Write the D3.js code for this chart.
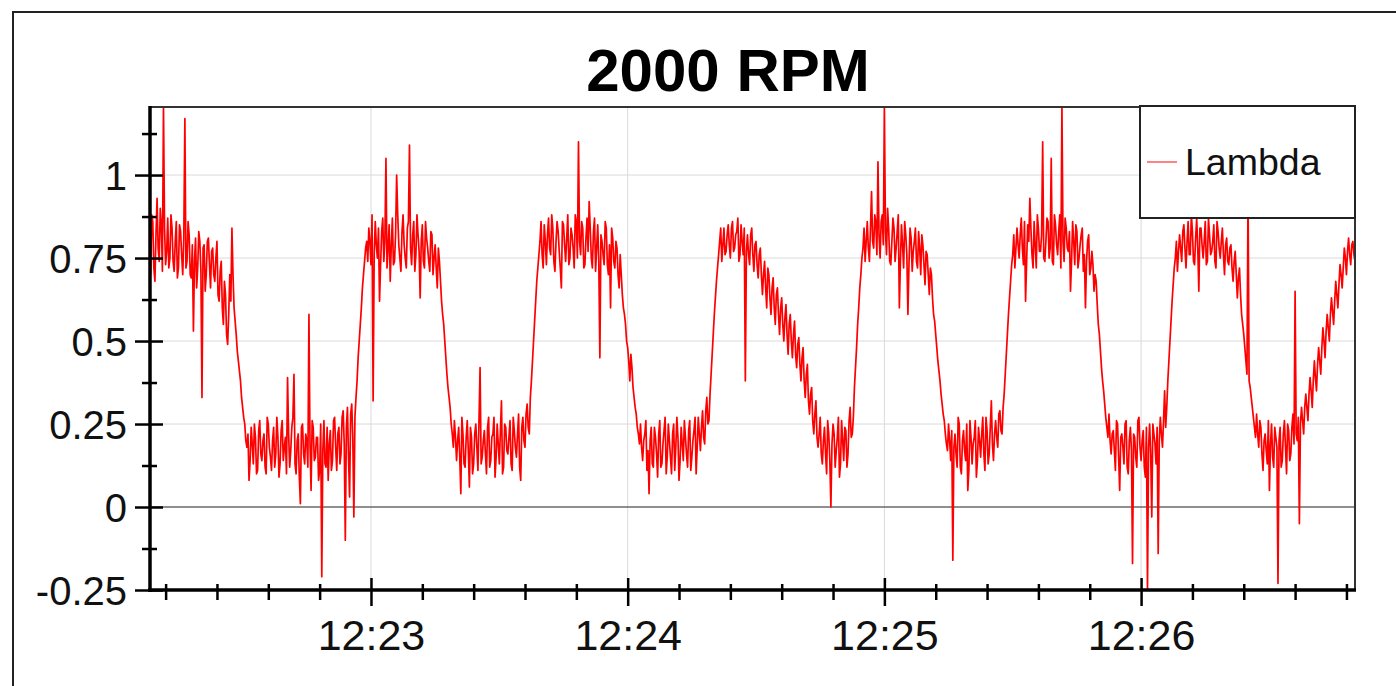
<!DOCTYPE html>
<html>
<head>
<meta charset="utf-8">
<script src="https://cdn.jsdelivr.net/npm/d3@7"></script>
<style>
  body { margin: 0; background: #fff; }
  svg { display: block; font-family: "Liberation Sans", Arial, sans-serif; }
</style>
</head>
<body>
<div id="chart"></div>
<script>
var w = 1396;
var h = 686;
var margin = { top: 107, right: 41, bottom: 96, left: 150 };

var title = "2000 RPM";
var seriesName = "Lambda";

// sample timing of the logger: readings on the half second, plus the ones in between
var startTime = new Date(2020, 0, 1, 12, 22, 8, 0);
var stepMs = 500;
var midOffsetMs = 250;
var viewStart = new Date(2020, 0, 1, 12, 22, 8, 350);
var viewEnd = new Date(2020, 0, 1, 12, 26, 50, 0);

var yTicks = [-0.25, 0, 0.25, 0.5, 0.75, 1];
var yMinorTicks = [-0.125, 0.125, 0.375, 0.625, 0.875, 1.125];
var xTickLabels = ["12:23", "12:24", "12:25", "12:26"];

// lambda readings on the half second
var lambdaValues = [
  0.80, 0.70, 0.86, 0.68, 0.93, 0.74, 0.85, 1.21, 0.73, 0.87,
  0.75, 0.84, 0.71, 0.86, 0.72, 0.83, 0.70, 1.17, 0.74, 0.82,
  0.69, 0.53, 0.81, 0.72, 0.80, 0.33, 0.79, 0.70, 0.81, 0.66,
  0.78, 0.68, 0.80, 0.62, 0.74, 0.55, 0.64, 0.49, 0.70, 0.84,
  0.60, 0.52, 0.44, 0.38, 0.30, 0.25, 0.18, 0.08, 0.24, 0.13,
  0.21, 0.11, 0.26, 0.14, 0.22, 0.10, 0.25, 0.15, 0.20, 0.12,
  0.27, 0.09, 0.23, 0.14, 0.21, 0.39, 0.12, 0.24, 0.40, 0.10,
  0.22, 0.01, 0.25, 0.13, 0.20, 0.58, 0.05, 0.24, 0.15, 0.21,
  0.11, -0.21, 0.26, 0.12, 0.08, 0.23, 0.14, 0.27, 0.11, 0.24,
  0.16, 0.29, -0.10, 0.30, 0.03, 0.31, -0.03, 0.33, 0.45, 0.55,
  0.66, 0.74, 0.80, 0.84, 0.73, 0.32, 0.86, 0.75, 0.62, 0.83,
  0.74, 1.05, 0.78, 0.68, 0.87, 0.74, 1.00, 0.79, 0.71, 0.88,
  0.75, 0.84, 1.09, 0.73, 0.86, 0.76, 0.82, 0.63, 0.85, 0.72,
  0.81, 0.74, 0.83, 0.70, 0.79, 0.66, 0.74, 0.62, 0.55, 0.45,
  0.36, 0.30, 0.22, 0.26, 0.14, 0.24, 0.04, 0.22, 0.12, 0.26,
  0.06, 0.21, 0.13, 0.25, 0.11, 0.42, 0.15, 0.23, 0.10, 0.27,
  0.14, 0.22, 0.09, 0.25, 0.13, 0.32, 0.12, 0.24, 0.16, 0.26,
  0.11, 0.23, 0.15, 0.28, 0.08, 0.27, 0.18, 0.31, 0.22, 0.38,
  0.50, 0.62, 0.72, 0.80, 0.76, 0.85, 0.73, 0.87, 0.76, 0.84,
  0.71, 0.86, 0.77, 0.66, 0.85, 0.74, 0.88, 0.75, 0.82, 0.72,
  0.86, 1.10, 0.76, 0.84, 0.73, 0.87, 0.92, 0.75, 0.83, 0.71,
  0.85, 0.45, 0.80, 0.73, 0.84, 0.70, 0.60, 0.81, 0.72, 0.78,
  0.66, 0.70, 0.60, 0.55, 0.48, 0.38, 0.42, 0.33, 0.28, 0.22,
  0.25, 0.14, 0.22, 0.11, 0.04, 0.24, 0.12, 0.21, 0.09, 0.26,
  0.13, 0.23, 0.10, 0.25, 0.15, 0.22, 0.11, 0.27, 0.08, 0.24,
  0.14, 0.21, 0.12, 0.26, 0.15, 0.23, 0.10, 0.27, 0.17, 0.29,
  0.19, 0.33, 0.26, 0.40, 0.52, 0.63, 0.72, 0.80, 0.74, 0.84,
  0.77, 0.85, 0.75, 0.86, 0.78, 0.83, 0.74, 0.85, 0.76, 0.38,
  0.82, 0.73, 0.84, 0.71, 0.80, 0.69, 0.78, 0.64, 0.74, 0.60,
  0.70, 0.58, 0.69, 0.55, 0.66, 0.52, 0.63, 0.50, 0.61, 0.46,
  0.58, 0.45, 0.56, 0.42, 0.51, 0.38, 0.48, 0.33, 0.43, 0.28,
  0.36, 0.22, 0.32, 0.18, 0.27, 0.13, 0.24, 0.10, 0.22, 0.00,
  0.25, 0.12, 0.21, 0.09, 0.26, 0.14, 0.23, 0.16, 0.30, 0.22,
  0.36, 0.48, 0.60, 0.70, 0.78, 0.74, 0.86, 0.74, 0.95, 0.78,
  0.86, 1.04, 0.75, 0.88, 1.21, 0.76, 0.84, 0.73, 0.87, 0.74,
  0.83, 0.60, 0.85, 0.72, 0.82, 0.58, 0.84, 0.71, 0.80, 0.74,
  0.83, 0.70, 0.79, 0.67, 0.76, 0.64, 0.70, 0.58, 0.52, 0.44,
  0.38, 0.31, 0.26, 0.19, 0.25, 0.14, -0.16, 0.22, 0.12, 0.25,
  0.10, 0.23, 0.14, 0.05, 0.26, 0.13, 0.21, 0.09, 0.24, 0.15,
  0.27, 0.11, 0.23, 0.16, 0.32, 0.14, 0.26, 0.18, 0.29, 0.22,
  0.34, 0.46, 0.58, 0.68, 0.76, 0.72, 0.84, 0.75, 0.87, 0.73,
  0.62, 0.85, 0.93, 0.76, 0.86, 0.72, 0.84, 0.77, 1.10, 0.74,
  0.87, 0.75, 1.05, 0.73, 0.85, 0.76, 0.88, 1.21, 0.74, 0.84,
  0.77, 0.65, 0.86, 0.73, 0.83, 0.75, 0.82, 0.71, 0.60, 0.80,
  0.70, 0.77, 0.65, 0.68, 0.55, 0.47, 0.38, 0.31, 0.24, 0.28,
  0.16, 0.23, 0.11, 0.25, 0.05, 0.22, 0.13, 0.26, 0.10, 0.24,
  -0.17, 0.21, 0.12, 0.27, 0.14, 0.23, 0.09, -0.25, 0.25, -0.03,
  0.22, 0.13, -0.14, 0.27, 0.18, 0.35, 0.30, 0.44, 0.56, 0.67,
  0.75, 0.71, 0.82, 0.74, 0.85, 0.72, 0.86, 0.76, 0.83, 0.73,
  0.87, 0.65, 0.84, 0.75, 0.86, 0.74, 0.82, 0.77, 0.85, 0.72,
  0.83, 0.75, 0.84, 0.70, 0.81, 0.73, 0.79, 0.68, 0.77, 0.63,
  0.72, 0.58, 0.52, 0.44, 0.95, 0.36, 0.30, 0.24, 0.28, 0.18,
  0.24, 0.11, 0.22, 0.13, 0.05, 0.25, 0.12, 0.21, -0.23, 0.24,
  0.14, 0.26, 0.10, 0.23, 0.16, 0.28, 0.65, 0.20, -0.05, 0.30,
  0.22, 0.34, 0.26, 0.39, 0.30, 0.44, 0.35, 0.48, 0.40, 0.54,
  0.45, 0.58, 0.50, 0.63, 0.55, 0.68, 0.60, 0.73, 0.66, 0.78,
  0.70, 0.81, 0.73, 0.80, 0.74, 0.78
];

// lambda readings a quarter second later (between the ones above)
var lambdaMid = [
  0.76, 0.88, 0.72, 0.82, 0.78, 0.90, 0.71, 0.84, 0.77, 0.72,
  0.88, 0.74, 0.80, 0.69, 0.85, 0.76, 0.81, 0.72, 0.86, 0.70,
  0.79, 0.74, 0.66, 0.83, 0.71, 0.78, 0.65, 0.80, 0.73, 0.77,
  0.70, 0.75, 0.64, 0.71, 0.60, 0.68, 0.52, 0.58, 0.62, 0.70,
  0.56, 0.47, 0.41, 0.33, 0.27, 0.20, 0.22, 0.14, 0.19, 0.25,
  0.10, 0.23, 0.16, 0.20, 0.12, 0.27, 0.18, 0.11, 0.24, 0.16,
  0.21, 0.13, 0.26, 0.18, 0.10, 0.22, 0.17, 0.27, 0.13, 0.20,
  0.09, 0.24, 0.16, 0.22, 0.12, 0.19, 0.26, 0.14, 0.21, 0.08,
  0.25, 0.17, 0.13, 0.24, 0.19, 0.11, 0.26, 0.18, 0.22, 0.13,
  0.27, 0.19, 0.24, 0.15, 0.28, 0.21, 0.27, 0.38, 0.50, 0.60,
  0.70, 0.78, 0.74, 0.80, 0.88, 0.76, 0.79, 0.84, 0.73, 0.87,
  0.80, 0.72, 0.85, 0.79, 0.73, 0.82, 0.88, 0.75, 0.83, 0.79,
  0.72, 0.86, 0.78, 0.82, 0.71, 0.88, 0.77, 0.80, 0.74, 0.86,
  0.78, 0.71, 0.82, 0.75, 0.72, 0.78, 0.68, 0.58, 0.50, 0.40,
  0.33, 0.25, 0.18, 0.21, 0.20, 0.15, 0.27, 0.13, 0.21, 0.17,
  0.24, 0.10, 0.22, 0.18, 0.26, 0.13, 0.20, 0.16, 0.24, 0.12,
  0.21, 0.27, 0.15, 0.19, 0.23, 0.10, 0.25, 0.17, 0.21, 0.13,
  0.27, 0.18, 0.22, 0.12, 0.24, 0.20, 0.28, 0.24, 0.33, 0.44,
  0.56, 0.68, 0.76, 0.86, 0.72, 0.80, 0.82, 0.78, 0.88, 0.74,
  0.80, 0.83, 0.72, 0.86, 0.79, 0.81, 0.73, 0.84, 0.78, 0.88,
  0.75, 0.80, 0.86, 0.72, 0.81, 0.77, 0.84, 0.72, 0.87, 0.78,
  0.74, 0.82, 0.76, 0.86, 0.73, 0.79, 0.84, 0.74, 0.80, 0.70,
  0.76, 0.64, 0.58, 0.50, 0.44, 0.46, 0.36, 0.30, 0.24, 0.19,
  0.18, 0.20, 0.26, 0.17, 0.20, 0.13, 0.24, 0.16, 0.22, 0.12,
  0.19, 0.27, 0.15, 0.20, 0.10, 0.25, 0.18, 0.21, 0.14, 0.19,
  0.26, 0.16, 0.23, 0.11, 0.20, 0.27, 0.18, 0.22, 0.24, 0.21,
  0.29, 0.25, 0.34, 0.46, 0.58, 0.68, 0.76, 0.84, 0.79, 0.76,
  0.82, 0.79, 0.84, 0.77, 0.82, 0.87, 0.76, 0.80, 0.84, 0.77,
  0.76, 0.82, 0.76, 0.79, 0.73, 0.76, 0.70, 0.70, 0.66, 0.72,
  0.63, 0.66, 0.60, 0.64, 0.58, 0.60, 0.55, 0.57, 0.52, 0.55,
  0.50, 0.52, 0.46, 0.49, 0.43, 0.45, 0.38, 0.40, 0.32, 0.34,
  0.26, 0.28, 0.21, 0.22, 0.16, 0.20, 0.16, 0.26, 0.14, 0.19,
  0.22, 0.17, 0.27, 0.13, 0.20, 0.24, 0.12, 0.26, 0.21, 0.27,
  0.42, 0.55, 0.66, 0.75, 0.84, 0.80, 0.78, 0.84, 0.80, 0.88,
  0.76, 0.82, 0.86, 0.79, 0.83, 0.90, 0.74, 0.80, 0.84, 0.78,
  0.88, 0.74, 0.79, 0.86, 0.76, 0.73, 0.81, 0.77, 0.84, 0.72,
  0.78, 0.82, 0.73, 0.77, 0.70, 0.72, 0.63, 0.56, 0.48, 0.41,
  0.34, 0.28, 0.22, 0.17, 0.20, 0.23, 0.18, 0.16, 0.27, 0.12,
  0.20, 0.17, 0.25, 0.11, 0.21, 0.19, 0.26, 0.14, 0.20, 0.22,
  0.16, 0.27, 0.13, 0.24, 0.19, 0.22, 0.21, 0.28, 0.23, 0.30,
  0.40, 0.52, 0.63, 0.73, 0.82, 0.78, 0.79, 0.82, 0.78, 0.86,
  0.74, 0.80, 0.84, 0.72, 0.79, 0.88, 0.77, 0.82, 0.75, 0.80,
  0.86, 0.78, 0.74, 0.88, 0.79, 0.83, 0.72, 0.80, 0.87, 0.78,
  0.83, 0.74, 0.80, 0.85, 0.72, 0.79, 0.84, 0.76, 0.74, 0.82,
  0.72, 0.73, 0.70, 0.61, 0.52, 0.42, 0.35, 0.27, 0.21, 0.20,
  0.22, 0.17, 0.26, 0.15, 0.21, 0.18, 0.25, 0.12, 0.20, 0.17,
  0.22, 0.15, 0.26, 0.18, 0.20, 0.12, 0.24, 0.18, 0.16, 0.25,
  0.19, 0.24, 0.20, 0.22, 0.26, 0.24, 0.38, 0.50, 0.62, 0.72,
  0.80, 0.77, 0.78, 0.83, 0.78, 0.80, 0.76, 0.88, 0.74, 0.81,
  0.78, 0.84, 0.79, 0.80, 0.73, 0.87, 0.76, 0.80, 0.74, 0.86,
  0.78, 0.80, 0.76, 0.79, 0.74, 0.78, 0.72, 0.74, 0.70, 0.69,
  0.64, 0.55, 0.48, 0.40, 0.38, 0.33, 0.27, 0.21, 0.22, 0.26,
  0.16, 0.20, 0.17, 0.26, 0.19, 0.15, 0.24, 0.18, 0.20, 0.12,
  0.22, 0.18, 0.25, 0.14, 0.24, 0.19, 0.22, 0.27, 0.25, 0.26,
  0.30, 0.30, 0.34, 0.35, 0.38, 0.39, 0.43, 0.44, 0.48, 0.50,
  0.53, 0.54, 0.58, 0.59, 0.62, 0.64, 0.67, 0.70, 0.72, 0.75,
  0.77, 0.76, 0.79, 0.76, 0.80, 0.77
];

// merge both sets of readings into one time-ordered series
var data = [];
lambdaValues.forEach(function(v, i) {
    var t = startTime.getTime() + i * stepMs;
    data.push({ t: new Date(t), v: v });
    if (i < lambdaMid.length) {
        data.push({ t: new Date(t + midOffsetMs), v: lambdaMid[i] });
    }
});

var xscale = d3.scaleTime().domain([viewStart, viewEnd]).range([margin.left, w - margin.right]);
var yscale = d3.scaleLinear().domain([-0.25, 1.205]).range([h - margin.bottom, margin.top]);

var x0 = margin.left, x1 = w - margin.right;
var y0 = h - margin.bottom, y1 = margin.top;

var svg = d3.select("#chart")
            .append("svg")
            .attr("width", w)
            .attr("height", h);

// outer frame (runs off the right and bottom of the picture)
svg.append("rect")
   .attr("x", 13).attr("y", 12)
   .attr("width", w).attr("height", h)
   .attr("fill", "none")
   .attr("stroke", "#222")
   .attr("stroke-width", 2);

// title
svg.append("text")
   .attr("x", 728)
   .attr("y", 91)
   .attr("text-anchor", "middle")
   .style("font-size", "60px")
   .style("font-weight", "bold")
   .attr("fill", "#000")
   .text(title);

// major minute ticks as dates
var minuteTicks = xTickLabels.map(function(s) {
    var p = s.split(":");
    return new Date(2020, 0, 1, +p[0], +p[1], 0);
});

// grid
svg.append("g")
   .selectAll("line")
   .data(minuteTicks)
   .enter()
   .append("line")
   .attr("x1", d => xscale(d)).attr("x2", d => xscale(d))
   .attr("y1", y1).attr("y2", y0)
   .attr("stroke", "#dadada").attr("stroke-width", 1);

svg.append("g")
   .selectAll("line")
   .data(yTicks.filter(d => d !== 0 && d !== -0.25))
   .enter()
   .append("line")
   .attr("x1", x0).attr("x2", x1)
   .attr("y1", d => yscale(d)).attr("y2", d => yscale(d))
   .attr("stroke", "#dadada").attr("stroke-width", 1);

// zero line
svg.append("line")
   .attr("x1", x0).attr("x2", x1)
   .attr("y1", yscale(0)).attr("y2", yscale(0))
   .attr("stroke", "#6a6a6a").attr("stroke-width", 1.5);

// trace
svg.append("clipPath")
   .attr("id", "plotclip")
   .append("rect")
   .attr("x", x0).attr("y", y1)
   .attr("width", x1 - x0).attr("height", y0 - y1);

var line = d3.line()
             .x(d => xscale(d.t))
             .y(d => yscale(d.v));

svg.append("path")
   .datum(data)
   .attr("clip-path", "url(#plotclip)")
   .attr("fill", "none")
   .attr("stroke", "#ff0000")
   .attr("stroke-width", 1.7)
   .attr("stroke-linejoin", "round")
   .attr("d", line);

// top and right border
svg.append("path")
   .attr("d", `M${x0},${y1}H${x1}V${y0}`)
   .attr("fill", "none")
   .attr("stroke", "#333")
   .attr("stroke-width", 2);

// y axis: major, then minor ticks
var yAxis = svg.append("g")
   .attr("transform", `translate(${x0}, 0)`)
   .call(d3.axisLeft(yscale).tickValues(yTicks).tickSize(15).tickPadding(8).tickFormat(d => String(d)));
yAxis.select(".domain").remove();
yAxis.selectAll(".tick line").attr("x1", 13).attr("stroke", "#000").attr("stroke-width", 2.5);
yAxis.selectAll(".tick text")
     .attr("dy", "0.36em")
     .attr("fill", "#111")
     .style("font-size", "40px");

svg.append("g")
   .attr("transform", `translate(${x0}, 0)`)
   .call(d3.axisLeft(yscale).tickValues(yMinorTicks).tickSize(8).tickFormat(""))
   .call(g => g.select(".domain").remove())
   .selectAll(".tick line").attr("x1", 7).attr("stroke", "#000").attr("stroke-width", 2.5);

// x axis: minor ticks every 12 s, then minutes
var minorX = d3.timeSecond.every(12).range(viewStart, viewEnd).filter(d => d.getSeconds() !== 0);
svg.append("g")
   .attr("transform", `translate(0, ${y0})`)
   .call(d3.axisBottom(xscale).tickValues(minorX).tickSize(10).tickFormat(""))
   .call(g => g.select(".domain").remove())
   .selectAll(".tick line").attr("y1", -6).attr("stroke", "#000").attr("stroke-width", 2.5);

var xAxis = svg.append("g")
   .attr("transform", `translate(0, ${y0})`)
   .call(d3.axisBottom(xscale).tickValues(minuteTicks).tickSize(16).tickPadding(13)
           .tickFormat((d, i) => xTickLabels[i]));
xAxis.select(".domain").remove();
xAxis.selectAll(".tick line").attr("y1", -12).attr("stroke", "#000").attr("stroke-width", 2.5);
xAxis.selectAll(".tick text")
     .attr("fill", "#111")
     .style("font-size", "43px");

// axis lines
svg.append("line")
   .attr("x1", x0).attr("x2", x0)
   .attr("y1", y1 - 1).attr("y2", y0 + 2)
   .attr("stroke", "#000").attr("stroke-width", 3.5);
svg.append("line")
   .attr("x1", x0 - 2).attr("x2", x1 + 1)
   .attr("y1", y0).attr("y2", y0)
   .attr("stroke", "#000").attr("stroke-width", 3.5);

// legend
var legend = svg.append("g");
legend.append("rect")
      .attr("x", 1140).attr("y", 106)
      .attr("width", 215).attr("height", 112)
      .attr("fill", "#fff")
      .attr("stroke", "#222")
      .attr("stroke-width", 2);
legend.append("line")
      .attr("x1", 1147).attr("x2", 1177)
      .attr("y1", 162).attr("y2", 162)
      .attr("stroke", "#ff4040")
      .attr("stroke-width", 1.3);
legend.append("text")
      .attr("x", 1185)
      .attr("y", 175)
      .attr("fill", "#111")
      .style("font-size", "37.5px")
      .text(seriesName);
</script>
</body>
</html>
